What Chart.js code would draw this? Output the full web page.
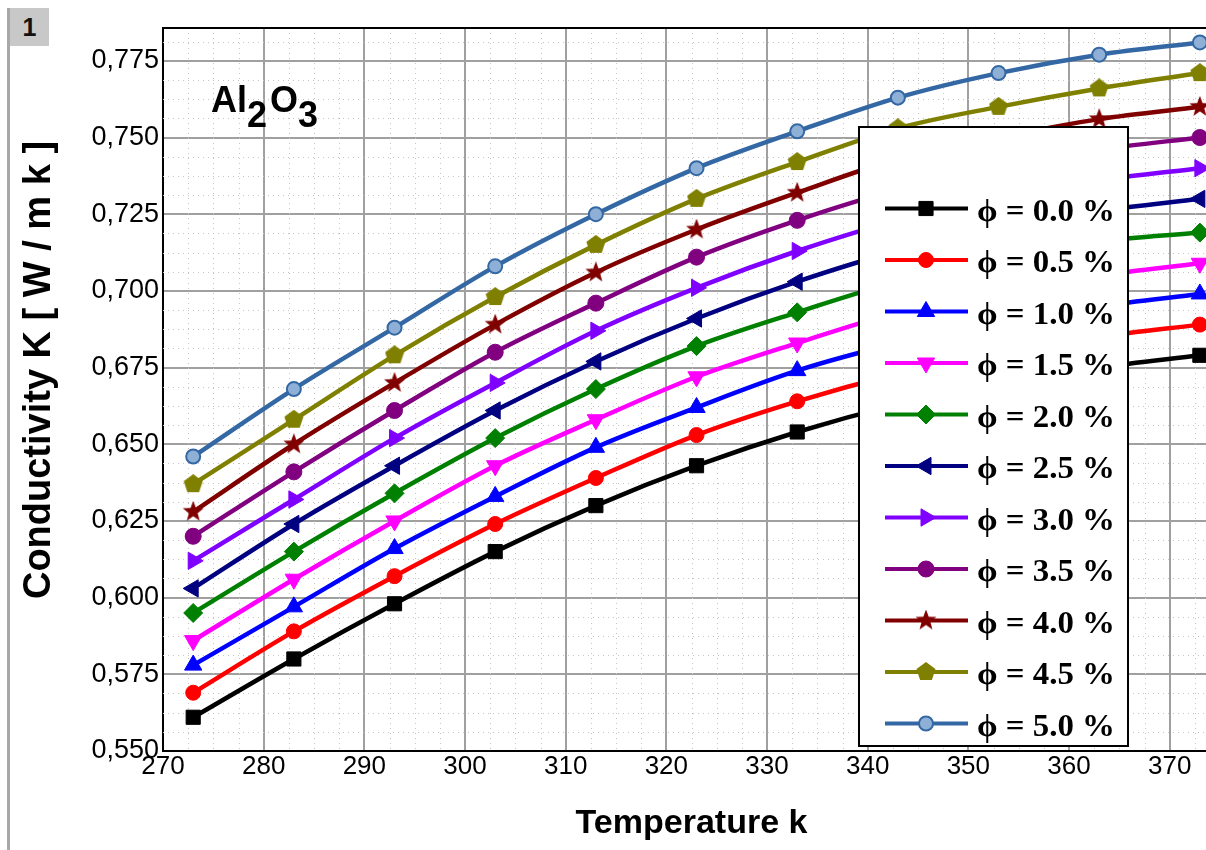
<!DOCTYPE html>
<html>
<head>
<meta charset="utf-8">
<script src="https://cdn.jsdelivr.net/npm/chart.js@4.4.0/dist/chart.umd.min.js"></script>
<style>
  html, body { margin: 0; padding: 0; background: #fff; overflow: hidden; }
  #wrap { position: relative; width: 1206px; height: 850px; overflow: hidden; }
  #chart { position: absolute; left: 0; top: 0; }
  #sideLine { position: absolute; left: 7px; top: 8px; width: 3px; height: 842px; background: #a8a8a8; }
  #badge { position: absolute; left: 10px; top: 8px; width: 39px; height: 38px; background: #c8c8c8;
           font: bold 25px 'Liberation Sans', Arial, sans-serif; line-height: 38px; text-align: center; color: #111; }
</style>
</head>
<body>
<div id="wrap">
  <canvas id="chart" width="1240" height="850"></canvas>
  <div id="sideLine"></div>
  <div id="badge">1</div>
</div>
<script>
// temperatures (K) where the curves were sampled
const temperatures = [273, 283, 293, 303, 313, 323, 333, 343, 353, 363, 373];
const xTicks = [270, 280, 290, 300, 310, 320, 330, 340, 350, 360, 370];
const yTicks = [0.55, 0.575, 0.6, 0.625, 0.65, 0.675, 0.7, 0.725, 0.75, 0.775];

const seriesLabels = ['ϕ = 0.0 %', 'ϕ = 0.5 %', 'ϕ = 1.0 %', 'ϕ = 1.5 %', 'ϕ = 2.0 %', 'ϕ = 2.5 %',
                      'ϕ = 3.0 %', 'ϕ = 3.5 %', 'ϕ = 4.0 %', 'ϕ = 4.5 %', 'ϕ = 5.0 %'];

// conductivity K [W/m k]
const phi00 = [0.561, 0.580, 0.598, 0.615, 0.630, 0.643, 0.654, 0.663, 0.670, 0.675, 0.679];
const phi05 = [0.569, 0.589, 0.607, 0.624, 0.639, 0.653, 0.664, 0.673, 0.680, 0.685, 0.689];
const phi10 = [0.578, 0.597, 0.616, 0.633, 0.649, 0.662, 0.674, 0.683, 0.690, 0.695, 0.699];
const phi15 = [0.586, 0.606, 0.625, 0.643, 0.658, 0.672, 0.683, 0.693, 0.700, 0.705, 0.709];
const phi20 = [0.595, 0.615, 0.634, 0.652, 0.668, 0.682, 0.693, 0.703, 0.710, 0.716, 0.719];
const phi25 = [0.603, 0.624, 0.643, 0.661, 0.677, 0.691, 0.703, 0.713, 0.720, 0.726, 0.730];
const phi30 = [0.612, 0.632, 0.652, 0.670, 0.687, 0.701, 0.713, 0.723, 0.730, 0.736, 0.740];
const phi35 = [0.620, 0.641, 0.661, 0.680, 0.696, 0.711, 0.723, 0.733, 0.740, 0.746, 0.750];
const phi40 = [0.628, 0.650, 0.670, 0.689, 0.706, 0.720, 0.732, 0.743, 0.750, 0.756, 0.760];
const phi45 = [0.637, 0.658, 0.679, 0.698, 0.715, 0.730, 0.742, 0.753, 0.760, 0.766, 0.771];
const phi50 = [0.646, 0.668, 0.688, 0.708, 0.725, 0.740, 0.752, 0.763, 0.771, 0.777, 0.781];

const seriesValues = [phi00, phi05, phi10, phi15, phi20, phi25, phi30, phi35, phi40, phi45, phi50];
const seriesColors = ['#000000', '#ff0000', '#0000ff', '#ff00ff', '#008000', '#000080',
                      '#8000ff', '#800080', '#800000', '#808000', '#3468a4'];

function makeMarker(color, spikes, inner, size) {
  const c = document.createElement('canvas');
  c.width = size; c.height = size;
  const g = c.getContext('2d');
  const r = size / 2;
  const n = inner ? spikes * 2 : spikes;
  g.beginPath();
  for (let i = 0; i < n; i++) {
    const rr = inner && i % 2 ? r * inner : r;
    const a = -Math.PI / 2 + i * Math.PI * 2 / n;
    g.lineTo(r + rr * Math.cos(a), r + rr * Math.sin(a));
  }
  g.closePath();
  g.fillStyle = color;
  g.fill();
  return c;
}

const markers = [
  { style: 'rect', radius: 10, rot: 0 },
  { style: 'circle', radius: 7.5, rot: 0 },
  { style: 'triangle', radius: 10, rot: 0 },
  { style: 'triangle', radius: 10, rot: 180 },
  { style: 'rectRot', radius: 9.5, rot: 0 },
  { style: 'triangle', radius: 10, rot: -90 },
  { style: 'triangle', radius: 10, rot: 90 },
  { style: 'circle', radius: 8, rot: 0 },
  { style: makeMarker('#800000', 5, 0.42, 22), radius: 9, rot: 0 },
  { style: makeMarker('#808000', 5, 0, 20), radius: 9, rot: 0 },
  { style: 'circle', radius: 7, rot: 0, fill: '#8fb0d6' },
];

const minorGrid = {
  id: 'minorGrid',
  beforeDatasetsDraw(chart) {
    const { ctx, chartArea: a, scales: { x, y } } = chart;
    ctx.save();
    ctx.strokeStyle = '#c4c4c4';
    ctx.lineWidth = 1;
    ctx.setLineDash([1, 4]);
    for (let k = 1; k * 2.5 < x.max - x.min; k++) {
      if (k % 4 === 0) continue;
      const px = Math.round(x.getPixelForValue(x.min + k * 2.5)) + 0.5;
      ctx.beginPath(); ctx.moveTo(px, a.top); ctx.lineTo(px, a.bottom); ctx.stroke();
    }
    for (let k = 1; k * 0.00625 < y.max - y.min; k++) {
      if (k % 4 === 0) continue;
      const py = Math.round(y.getPixelForValue(y.min + k * 0.00625)) + 0.5;
      ctx.beginPath(); ctx.moveTo(a.left, py); ctx.lineTo(a.right, py); ctx.stroke();
    }
    ctx.setLineDash([]);
    ctx.strokeStyle = '#000';
    ctx.lineWidth = 2;
    ctx.beginPath(); ctx.moveTo(a.left, a.top); ctx.lineTo(a.right + 2, a.top); ctx.stroke();
    ctx.restore();
  }
};

const decorations = {
  id: 'decorations',
  afterDatasetsDraw(chart) {
    const ctx = chart.ctx;
    ctx.save();
    // compound name with subscripts
    ctx.fillStyle = '#000';
    ctx.textBaseline = 'alphabetic';
    ctx.textAlign = 'left';
    ctx.font = 'bold 36px "Liberation Sans", Arial, sans-serif';
    let tx = 211;
    [['Al', 0], ['2', 15], ['O', 0], ['3', 15]].forEach(([t, dy]) => {
      ctx.fillText(t, tx, 112 + dy);
      tx += ctx.measureText(t).width + (dy ? 3 : 0);
    });

    // y axis title
    ctx.save();
    ctx.translate(50, 370);
    ctx.rotate(-Math.PI / 2);
    ctx.textAlign = 'center';
    ctx.font = 'bold 38px "Liberation Sans", Arial, sans-serif';
    ctx.fillText('Conductivity K [ W / m k ]', 0, 0);
    ctx.restore();

    // legend box
    const box = { left: 859, top: 127, right: 1128, bottom: 746 };
    ctx.fillStyle = '#fff';
    ctx.fillRect(box.left, box.top, box.right - box.left, box.bottom - box.top);
    ctx.strokeStyle = '#000';
    ctx.lineWidth = 2;
    ctx.strokeRect(box.left, box.top, box.right - box.left, box.bottom - box.top);

    chart.data.datasets.forEach((ds, i) => {
      const ly = 208.5 + i * 51.5;
      ctx.strokeStyle = ds.borderColor;
      ctx.lineWidth = 4;
      ctx.beginPath(); ctx.moveTo(885, ly); ctx.lineTo(968, ly); ctx.stroke();
      ctx.fillStyle = ds.pointBackgroundColor;
      ctx.strokeStyle = ds.pointBorderColor;
      ctx.lineWidth = ds.pointBorderWidth;
      if (Chart.helpers && Chart.helpers.drawPoint) {
        Chart.helpers.drawPoint(ctx, {
          pointStyle: ds.pointStyle, rotation: ds.pointRotation,
          radius: ds.pointRadius, borderWidth: ds.pointBorderWidth
        }, 926, ly);
      }
      ctx.save();
      ctx.fillStyle = '#000';
      ctx.font = 'bold 31px "Liberation Serif", "Times New Roman", serif';
      const w = ctx.measureText(ds.label).width;
      ctx.translate(977, ly + 12);
      ctx.scale(138 / w, 1);
      ctx.fillText(ds.label, 0, 0);
      ctx.restore();
    });
    ctx.restore();
  }
};

const ctx = document.getElementById('chart').getContext('2d');
const conductivityChart = new Chart(ctx, {
  type: 'line',
  data: {
    datasets: seriesValues.map((vals, i) => ({
      label: seriesLabels[i],
      data: vals.map((v, j) => ({ x: temperatures[j], y: v })),
      borderColor: seriesColors[i],
      backgroundColor: seriesColors[i],
      pointBackgroundColor: markers[i].fill || seriesColors[i],
      pointBorderColor: seriesColors[i],
      pointBorderWidth: markers[i].fill ? 2 : 1,
      pointStyle: markers[i].style,
      pointRotation: markers[i].rot,
      pointRadius: markers[i].radius,
      borderWidth: 4.5,
      cubicInterpolationMode: 'monotone',
      fill: false
    }))
  },
  options: {
    responsive: false,
    animation: false,
    layout: { padding: { top: 28, right: 20, left: 0, bottom: 0 } },
    plugins: {
      legend: { display: false },
      tooltip: { enabled: false }
    },
    scales: {
      x: {
        type: 'linear',
        min: 270,
        max: 375,
        afterBuildTicks: (scale) => { scale.ticks = xTicks.map(v => ({ value: v })); },
        afterFit: (scale) => { scale.height = 99; },
        grid: { color: '#a0a0a0', lineWidth: 2, drawTicks: false },
        border: { color: '#000', width: 2 },
        ticks: {
          color: '#000',
          padding: 0,
          maxRotation: 0,
          font: { size: 26, family: '"Liberation Sans", Arial, sans-serif' },
          callback: (v) => String(v)
        },
        title: {
          display: true,
          text: 'Temperature k',
          color: '#000',
          padding: { top: 0, bottom: 9 },
          font: { size: 34, weight: 'bold', lineHeight: 1, family: '"Liberation Sans", Arial, sans-serif' }
        }
      },
      y: {
        min: 0.55,
        max: 0.7857,
        afterBuildTicks: (scale) => { scale.ticks = yTicks.map(v => ({ value: v })); },
        afterFit: (scale) => { scale.width = 163; },
        grid: { color: '#a0a0a0', lineWidth: 2, drawTicks: false },
        border: { color: '#000', width: 2 },
        ticks: {
          color: '#000',
          padding: 4,
          font: { size: 27, family: '"Liberation Sans", Arial, sans-serif' },
          callback: (v) => v.toFixed(3).replace('.', ',')
        }
      }
    }
  },
  plugins: [minorGrid, decorations]
});
</script>
</body>
</html>
